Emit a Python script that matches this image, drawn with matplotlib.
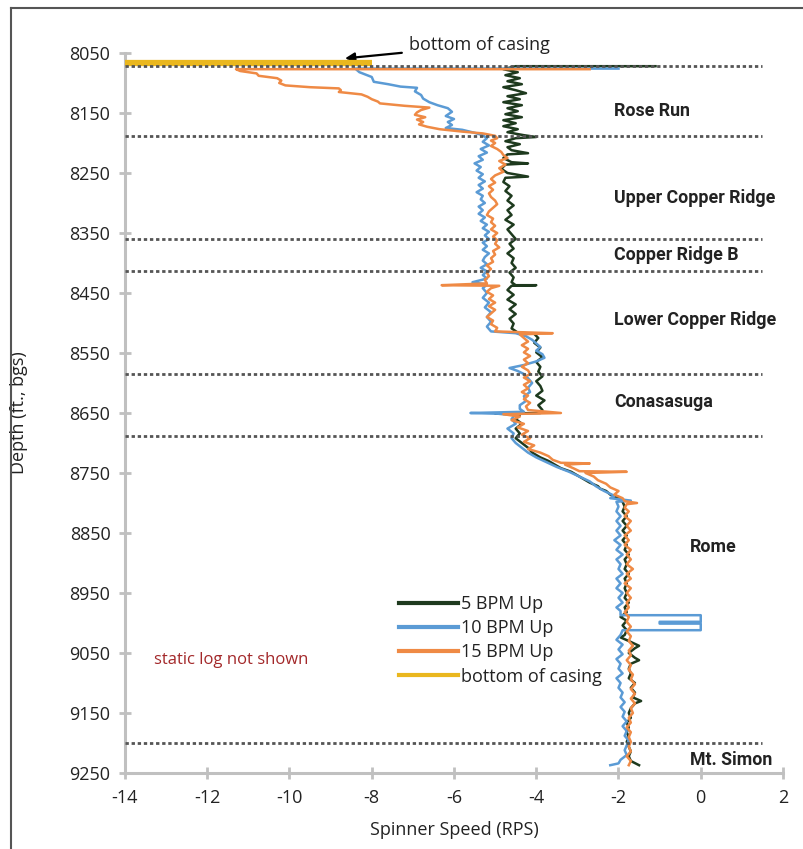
import numpy as np
import matplotlib
matplotlib.use("Agg")
import matplotlib.pyplot as plt
from matplotlib.lines import Line2D

# ---------------- data ----------------
# (depth ft, spinner speed RPS)
bpm5 = [
    (8072, -1.1), (8072, -4.5), (8077, -4.8), (8082, -4.45), (8087, -4.75), (8092, -4.4), (8097, -4.7),
    (8102, -4.35), (8107, -4.8), (8112, -4.5), (8117, -4.25), (8122, -4.7), (8127, -4.4), (8132, -4.8),
    (8137, -4.35), (8142, -4.7), (8147, -4.45), (8152, -4.75), (8157, -4.35), (8162, -4.8), (8167, -4.5),
    (8172, -4.8), (8177, -4.45), (8182, -4.7), (8187, -4.3), (8190, -4.0), (8192, -4.5), (8197, -4.75),
    (8202, -4.4), (8207, -4.7), (8212, -4.6), (8217, -4.2), (8219, -4.7), (8225, -4.8), (8232, -4.6),
    (8234, -4.2), (8236, -4.75), (8243, -4.85), (8250, -4.7), (8256, -4.2), (8258, -4.75), (8265, -4.8),
    (8272, -4.65), (8280, -4.75), (8288, -4.6), (8296, -4.7), (8304, -4.55), (8312, -4.7), (8320, -4.6),
    (8328, -4.75), (8336, -4.55), (8344, -4.7), (8352, -4.6), (8360, -4.5), (8368, -4.65), (8376, -4.55),
    (8384, -4.7), (8392, -4.55), (8400, -4.6), (8408, -4.5), (8416, -4.65), (8424, -4.55), (8432, -4.6),
    (8437, -4.5), (8437, -4.0), (8438, -4.6), (8445, -4.7), (8453, -4.55), (8461, -4.7), (8469, -4.5),
    (8477, -4.65), (8485, -4.5), (8493, -4.65), (8501, -4.55), (8509, -4.6), (8516, -4.45), (8518, -4.05),
    (8525, -3.95), (8533, -4.05), (8541, -3.9), (8549, -4.0), (8557, -3.85), (8565, -4.0), (8573, -3.9),
    (8581, -3.95), (8589, -3.85), (8597, -4.0), (8605, -3.9), (8613, -3.85), (8621, -4.0), (8629, -3.8),
    (8637, -3.95), (8645, -3.85), (8650, -3.9), (8651, -5.0), (8653, -4.4), (8660, -4.5), (8668, -4.35),
    (8676, -4.5), (8684, -4.4), (8692, -4.5), (8700, -4.35), (8708, -4.2), (8716, -4.1), (8724, -3.9),
    (8730, -3.7), (8736, -3.55), (8742, -3.4), (8748, -3.15), (8754, -3.0), (8760, -2.85), (8766, -2.7),
    (8772, -2.5), (8776, -2.45), (8780, -2.3), (8786, -2.2), (8792, -2.0), (8798, -1.9), (8806, -1.85),
    (8814, -1.9), (8822, -1.8), (8830, -1.9), (8838, -1.8), (8846, -1.9), (8854, -1.8), (8862, -1.9),
    (8870, -1.8), (8878, -1.85), (8886, -1.75), (8894, -1.85), (8902, -1.8), (8910, -1.85), (8918, -1.75),
    (8926, -1.85), (8934, -1.8), (8942, -1.85), (8950, -1.8), (8958, -1.85), (8966, -1.75), (8974, -1.85),
    (8982, -1.8), (8990, -1.95), (8996, -1.8), (9004, -1.9), (9012, -1.8), (9020, -1.85), (9024, -1.95),
    (9030, -1.75), (9038, -1.5), (9042, -1.6), (9050, -1.75), (9058, -1.6), (9062, -1.5), (9068, -1.7),
    (9076, -1.75), (9084, -1.7), (9092, -1.75), (9100, -1.6), (9108, -1.7), (9116, -1.6), (9124, -1.65),
    (9130, -1.45), (9134, -1.6), (9142, -1.7), (9150, -1.75), (9158, -1.7), (9166, -1.8), (9174, -1.75),
    (9182, -1.8), (9190, -1.75), (9198, -1.8), (9206, -1.75), (9214, -1.7), (9222, -1.75), (9230, -1.7),
    (9237, -1.5),
]

bpm10 = [
    (8076, -2.0), (8076, -8.4), (8082, -8.3), (8090, -8.0), (8098, -7.95), (8102, -7.6), (8106, -7.3),
    (8108, -6.9), (8114, -6.95), (8120, -6.8), (8126, -6.75), (8132, -6.6), (8137, -6.4), (8142, -6.15),
    (8148, -6.05), (8155, -6.2), (8160, -6.0), (8165, -6.15), (8170, -6.05), (8175, -6.2), (8178, -5.8),
    (8183, -5.5), (8187, -5.3), (8192, -5.2), (8198, -5.3), (8204, -5.15), (8210, -5.35), (8216, -5.2),
    (8222, -5.4), (8228, -5.3), (8234, -5.5), (8240, -5.35), (8246, -5.45), (8252, -5.3), (8258, -5.4),
    (8264, -5.25), (8270, -5.4), (8276, -5.3), (8282, -5.45), (8288, -5.3), (8294, -5.35), (8300, -5.25),
    (8306, -5.4), (8312, -5.3), (8318, -5.4), (8324, -5.25), (8330, -5.35), (8336, -5.2), (8342, -5.3),
    (8348, -5.15), (8354, -5.25), (8360, -5.15), (8366, -5.3), (8372, -5.2), (8378, -5.3), (8384, -5.15),
    (8390, -5.25), (8396, -5.3), (8402, -5.2), (8408, -5.35), (8414, -5.2), (8420, -5.3), (8426, -5.2),
    (8432, -5.55), (8436, -5.2), (8442, -5.3), (8450, -5.2), (8458, -5.3), (8466, -5.15), (8474, -5.25),
    (8482, -5.1), (8490, -5.2), (8498, -5.1), (8506, -5.2), (8514, -5.1), (8517, -4.5), (8522, -4.25),
    (8528, -4.1), (8534, -4.0), (8540, -3.9), (8546, -4.0), (8552, -3.85), (8558, -3.8), (8564, -4.0),
    (8570, -4.3), (8575, -4.65), (8580, -4.45), (8585, -4.3), (8592, -4.2), (8600, -4.1), (8608, -4.2),
    (8615, -4.15), (8622, -4.3), (8630, -4.25), (8637, -4.4), (8643, -4.4), (8648, -4.3), (8650, -5.6),
    (8652, -4.5), (8660, -4.6), (8668, -4.5), (8676, -4.7), (8684, -4.55), (8692, -4.6), (8700, -4.5),
    (8708, -4.35), (8716, -4.2), (8724, -4.0), (8732, -3.75), (8740, -3.5), (8748, -3.2), (8756, -2.95),
    (8764, -2.7), (8772, -2.55), (8780, -2.35), (8788, -2.1), (8792, -2.2), (8796, -1.7), (8798, -2.05),
    (8806, -2.0), (8814, -2.05), (8822, -1.95), (8830, -2.05), (8838, -1.95), (8846, -2.05), (8854, -1.95),
    (8862, -2.1), (8870, -1.95), (8878, -2.05), (8886, -1.9), (8894, -2.05), (8902, -1.95), (8910, -2.0),
    (8918, -1.9), (8926, -2.05), (8934, -1.95), (8942, -2.05), (8950, -1.9), (8958, -2.0), (8966, -1.9),
    (8974, -2.05), (8980, -1.95), (8987, -1.95), (8987, 0.0), (8998, 0.0), (8998, -1.0), (9001, -1.0),
    (9001, 0.0), (9012, 0.0), (9012, -1.9), (9020, -1.95), (9028, -2.05), (9036, -1.9), (9044, -2.0),
    (9052, -1.9), (9060, -2.05), (9068, -1.95), (9076, -2.0), (9084, -1.9), (9092, -2.05), (9100, -1.95),
    (9108, -2.0), (9116, -1.9), (9124, -1.95), (9132, -1.85), (9140, -1.95), (9148, -1.85), (9156, -1.9),
    (9164, -1.8), (9172, -1.9), (9180, -1.8), (9188, -1.85), (9196, -1.75), (9204, -1.8), (9212, -1.85),
    (9220, -1.8), (9228, -1.95), (9234, -2.0), (9237, -2.2),
]

bpm15 = [
    (8077, -2.7), (8077, -11.3), (8080, -11.2), (8084, -10.8), (8088, -10.75), (8092, -10.3), (8096, -10.2),
    (8100, -10.25), (8104, -10.1), (8107, -9.5), (8109, -8.8), (8112, -8.75), (8115, -8.8), (8119, -8.25),
    (8123, -8.1), (8127, -8.0), (8131, -7.85), (8134, -7.8), (8138, -7.2), (8141, -6.6), (8145, -6.8),
    (8149, -6.9), (8153, -6.95), (8157, -6.7), (8161, -6.9), (8165, -6.75), (8169, -6.85), (8173, -6.65),
    (8177, -6.35), (8181, -5.8), (8184, -5.3), (8188, -5.0), (8192, -4.95), (8196, -5.1), (8200, -5.0),
    (8205, -5.1), (8210, -4.95), (8215, -4.85), (8220, -4.8), (8225, -4.7), (8230, -4.9), (8236, -4.75),
    (8242, -4.9), (8248, -4.8), (8254, -5.0), (8260, -5.1), (8266, -5.0), (8272, -5.15), (8278, -5.05),
    (8284, -5.15), (8290, -5.1), (8296, -5.0), (8302, -4.95), (8308, -5.05), (8314, -5.15), (8320, -5.2),
    (8326, -5.05), (8332, -5.1), (8338, -5.0), (8344, -5.1), (8350, -4.95), (8356, -5.05), (8362, -4.95),
    (8368, -5.0), (8374, -4.9), (8380, -5.05), (8386, -5.0), (8392, -5.1), (8398, -5.05), (8404, -5.2),
    (8410, -5.1), (8416, -5.2), (8422, -5.15), (8428, -5.25), (8434, -5.2), (8437, -6.3), (8438, -4.9),
    (8442, -5.1), (8448, -5.2), (8454, -5.05), (8460, -5.15), (8466, -5.0), (8472, -5.15), (8478, -5.0),
    (8484, -5.1), (8490, -5.2), (8496, -5.05), (8502, -5.1), (8508, -4.95), (8514, -5.0), (8517, -3.6),
    (8519, -4.4), (8525, -4.3), (8531, -4.2), (8537, -4.35), (8543, -4.2), (8549, -4.3), (8555, -4.15),
    (8561, -4.3), (8567, -4.2), (8573, -4.35), (8579, -4.2), (8585, -4.15), (8591, -4.3), (8597, -4.15),
    (8603, -4.3), (8609, -4.2), (8615, -4.35), (8621, -4.2), (8627, -4.3), (8633, -4.15), (8639, -4.25),
    (8645, -4.2), (8650, -3.4), (8652, -4.8), (8656, -4.4), (8662, -4.6), (8668, -4.3), (8674, -4.45),
    (8680, -4.2), (8686, -4.35), (8692, -4.15), (8698, -4.3), (8704, -4.05), (8710, -4.2), (8716, -3.9),
    (8722, -3.7), (8728, -3.6), (8733, -3.4), (8734, -2.7), (8736, -3.3), (8742, -3.1), (8747, -2.95),
    (8748, -1.8), (8750, -2.8), (8756, -2.6), (8762, -2.5), (8768, -2.3), (8774, -2.2), (8780, -2.0),
    (8786, -2.1), (8792, -1.9), (8797, -1.85), (8800, -1.55), (8802, -1.8), (8808, -1.85), (8814, -1.75),
    (8822, -1.85), (8830, -1.7), (8838, -1.8), (8846, -1.7), (8854, -1.85), (8862, -1.75), (8870, -1.85),
    (8878, -1.7), (8886, -1.8), (8894, -1.7), (8902, -1.8), (8910, -1.65), (8918, -1.8), (8926, -1.7),
    (8934, -1.85), (8942, -1.7), (8950, -1.8), (8958, -1.7), (8966, -1.8), (8974, -1.75), (8982, -1.85),
    (8990, -1.75), (8998, -1.8), (9006, -1.7), (9014, -1.8), (9022, -1.7), (9030, -1.75), (9038, -1.65),
    (9046, -1.75), (9054, -1.7), (9062, -1.8), (9070, -1.7), (9078, -1.75), (9086, -1.65), (9094, -1.7),
    (9102, -1.6), (9110, -1.7), (9118, -1.6), (9126, -1.7), (9134, -1.6), (9142, -1.7), (9150, -1.65),
    (9158, -1.75), (9166, -1.7), (9174, -1.8), (9182, -1.7), (9190, -1.75), (9198, -1.7), (9206, -1.75),
    (9214, -1.7), (9222, -1.8), (9230, -1.7), (9237, -1.75),
]

casing_depth = 8067
casing_x = [-14, -8]

formation_tops = [8072, 8188, 8360, 8413, 8585, 8688, 9200]
formation_names = ["Rose Run", "Upper Copper Ridge", "Copper Ridge B", "Lower Copper Ridge",
                   "Conasasuga", "Rome", "Mt. Simon"]
formation_label_depth = [8146, 8291, 8386, 8495, 8631, 8873, 9228]
formation_label_x = [-2.1, -2.1, -2.1, -2.1, -2.1, -0.27, -0.27]

series_labels = ["5 BPM Up", "10 BPM Up", "15 BPM Up", "bottom of casing"]
series_colors = ["#1e3a1e", "#5b9bd5", "#ef8a45", "#eab71e"]

x_ticks = list(range(-14, 3, 2))
y_ticks = list(range(8050, 9251, 100))

# ---------------- plot ----------------
W, H = 804, 849
fig = plt.figure(figsize=(W / 100, H / 100), dpi=100)
ax = fig.add_axes([125 / W, 1 - 773 / H, (783 - 125) / W, (773 - 53) / H])

FONT = "Open Sans"
COND = ["Roboto", "DejaVu Sans"]

for data, col in zip([bpm5, bpm10, bpm15], series_colors[:3]):
    arr = np.array(data)
    ax.plot(arr[:, 1], arr[:, 0], color=col, lw=1.8, zorder=3)

ax.plot(casing_x, [casing_depth, casing_depth], color=series_colors[3], lw=4.5, zorder=4,
        solid_capstyle="butt")

for d in formation_tops:
    ax.plot([-14, 1.5], [d, d], color="#555555", lw=2.0, linestyle=(0, (1.2, 1.0)), zorder=5)

for name, d, x in zip(formation_names, formation_label_depth, formation_label_x):
    ax.text(x, d, name, family=COND, fontweight="bold", fontsize=12.8, color="#222222",
            ha="left", va="center", zorder=6)

ax.text(-13.3, 9062, "static log not shown", family=FONT, fontsize=12, color="#a3282a",
        ha="left", va="center")

ax.annotate("bottom of casing", xy=(-8.65, 8059), xytext=(-7.1, 8037),
            fontsize=13, family=FONT, color="#222222", ha="left", va="center",
            annotation_clip=False,
            arrowprops=dict(arrowstyle="-|>", color="black", lw=1.6, mutation_scale=14,
                            shrinkA=3, shrinkB=0))

handles = [Line2D([0], [0], color=c, lw=3) for c in series_colors]
leg = ax.legend(handles, series_labels, loc="upper left", bbox_to_anchor=(0.405, 0.257),
                frameon=False, handlelength=3.3, handletextpad=0.15, labelspacing=0.34,
                borderaxespad=0, prop={"family": FONT, "size": 13})
for t in leg.get_texts():
    t.set_color("#222222")

ax.set_xlim(-14, 2)
ax.set_ylim(9250, 8050)
ax.set_xticks(x_ticks)
ax.set_yticks(y_ticks)
ax.set_xticklabels([str(v) for v in x_ticks], family=FONT, fontsize=13, color="#222222")
ax.set_yticklabels([str(v) for v in y_ticks], family=FONT, fontsize=13, color="#222222")
ax.tick_params(axis="both", direction="inout", length=9, width=2, color="#c0c0c0")
ax.tick_params(axis="x", pad=7)
ax.tick_params(axis="y", pad=6)
for s in ["top", "right"]:
    ax.spines[s].set_visible(False)
for s in ["left", "bottom"]:
    ax.spines[s].set_color("#c0c0c0")
    ax.spines[s].set_linewidth(2.2)

ax.set_xlabel("Spinner Speed (RPS)", family=FONT, fontsize=13, color="#222222", labelpad=10)
ax.set_ylabel("Depth (ft., bgs)", family=FONT, fontsize=13, color="#222222", labelpad=30)

# figure border (top and left edges)
fig.add_artist(Line2D([11 / W, 11 / W], [0, 1 - 8 / H], color="#555555", lw=1.5,
                      transform=fig.transFigure))
fig.add_artist(Line2D([11 / W, 1], [1 - 8 / H, 1 - 8 / H], color="#555555", lw=1.5,
                      transform=fig.transFigure))

fig.savefig("out.png", dpi=100)
